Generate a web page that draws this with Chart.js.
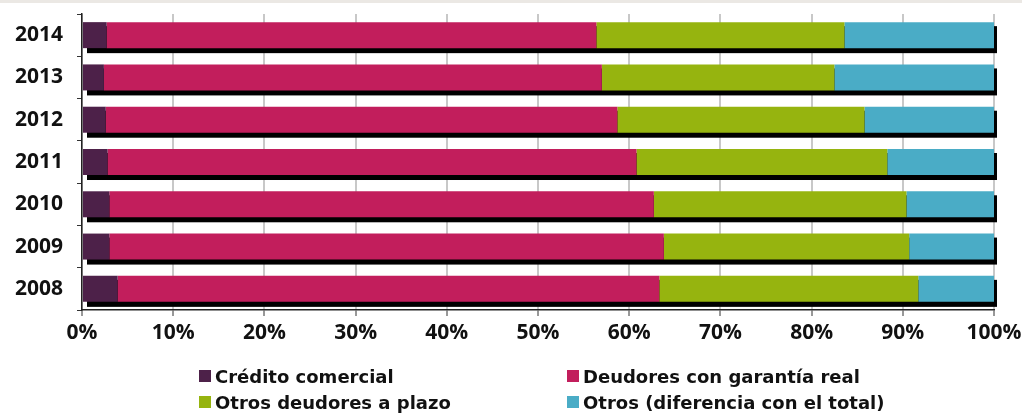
<!DOCTYPE html>
<html>
<head>
<meta charset="utf-8">
<script src="https://cdn.jsdelivr.net/npm/chart.js@4"></script>
<style>
html,body{margin:0;padding:0;background:#fff;}
#wrap{width:1022px;height:414px;position:relative;}
</style>
</head>
<body>
<div id="wrap"><canvas id="c" width="1022" height="414"></canvas></div>
<script>
const categories = ['2014', '2013', '2012', '2011', '2010', '2009', '2008'];
const seriesNames = ['Crédito comercial', 'Deudores con garantía real', 'Otros deudores a plazo', 'Otros (diferencia con el total)'];
const credito = [2.7, 2.4, 2.6, 2.8, 3.0, 3.0, 3.9];
const deudoresGarantia = [53.7, 54.6, 56.1, 58.0, 59.7, 60.8, 59.4];
const otrosDeudores = [27.2, 25.5, 27.1, 27.5, 27.7, 26.9, 28.4];
const otros = [16.4, 17.5, 14.2, 11.7, 9.6, 9.3, 8.3];
const xTickValues = [0, 10, 20, 30, 40, 50, 60, 70, 80, 90, 100];
const xTickLabels = ['0%', '10%', '20%', '30%', '40%', '50%', '60%', '70%', '80%', '90%', '100%'];

const colors = ['#4d2149', '#c21e5c', '#96b40f', '#4aacc6'];
const FONT = '"Open Sans", "Noto Sans", sans-serif';
const LEGEND_FONT = '"DejaVu Sans", "Open Sans", sans-serif';
const TXT = '#111111';

const bgPlugin = {
  id: 'bg',
  beforeDraw(chart) {
    const ctx = chart.ctx;
    ctx.save();
    ctx.fillStyle = '#ffffff';
    ctx.fillRect(0, 0, chart.width, chart.height);
    ctx.fillStyle = '#ebe8e4';
    ctx.fillRect(0, 0, chart.width, 3);
    ctx.restore();
  }
};

const shadowPlugin = {
  id: 'barShadow',
  beforeDatasetsDraw(chart) {
    const ctx = chart.ctx;
    const xs = chart.scales.x;
    const meta0 = chart.getDatasetMeta(0);
    ctx.save();
    ctx.fillStyle = '#000000';
    meta0.data.forEach((el, j) => {
      const p = el.getProps(['y', 'height'], true);
      let total = 0;
      chart.data.datasets.forEach(ds => { total += ds.data[j]; });
      const x0 = xs.getPixelForValue(0) + 5;
      const x1 = xs.getPixelForValue(total) + 3;
      const top = p.y - p.height / 2 + 4;
      ctx.fillRect(x0, top, x1 - x0, p.height + 1);
    });
    ctx.restore();
  }
};

const legendPlugin = {
  id: 'gridLegend',
  afterDraw(chart) {
    const ctx = chart.ctx;
    const colX = [199, 567];
    const rowY = [370, 396];
    ctx.save();
    ctx.font = 'bold 18px ' + LEGEND_FONT;
    ctx.textBaseline = 'alphabetic';
    ctx.textAlign = 'left';
    chart.data.datasets.forEach((ds, i) => {
      const bx = colX[i % 2];
      const by = rowY[Math.floor(i / 2)];
      ctx.fillStyle = ds.backgroundColor;
      ctx.fillRect(bx, by, 12, 12);
      ctx.fillStyle = TXT;
      ctx.fillText(ds.label, bx + 16, by + 12.5);
    });
    ctx.restore();
  }
};

function makeChart() {
  const seriesData = [credito, deudoresGarantia, otrosDeudores, otros];
  new Chart(document.getElementById('c'), {
    type: 'bar',
    data: {
      labels: categories,
      datasets: seriesNames.map((name, i) => ({
        label: name,
        data: seriesData[i],
        backgroundColor: colors[i],
        borderWidth: 0,
        barPercentage: 0.615,
        categoryPercentage: 1.0
      }))
    },
    options: {
      indexAxis: 'y',
      responsive: false,
      animation: false,
      devicePixelRatio: 1,
      layout: { padding: { top: 14, right: 28, bottom: 64, left: 0 } },
      plugins: { legend: { display: false }, tooltip: { enabled: false } },
      scales: {
        x: {
          stacked: true,
          min: 0,
          max: 100,
          afterBuildTicks(scale) { scale.ticks = xTickValues.map(v => ({ value: v })); },
          afterFit(scale) { scale.height = 40; scale.paddingLeft = 0; scale.paddingRight = 0; },
          ticks: {
            callback: (v) => xTickLabels[xTickValues.indexOf(v)],
            font: { family: FONT, size: 21, weight: 'bold' },
            color: TXT,
            padding: 4,
            maxRotation: 0
          },
          grid: { color: '#c8c8c8', lineWidth: 2, tickLength: 6, tickColor: '#333333', tickWidth: 1 },
          border: { color: '#222222', width: 1.5 }
        },
        y: {
          stacked: true,
          afterFit(scale) { scale.width = 82; scale.paddingTop = 0; scale.paddingBottom = 0; },
          ticks: {
            font: { family: FONT, size: 21, weight: 'bold' },
            color: TXT,
            padding: 14
          },
          grid: { drawOnChartArea: false, offset: true, tickLength: 5, tickColor: '#333333', tickWidth: 1 },
          border: { color: '#222222', width: 1.5 }
        }
      }
    },
    plugins: [bgPlugin, shadowPlugin, legendPlugin]
  });
}

if (document.fonts && document.fonts.load) {
  Promise.all([
    document.fonts.load('bold 21px "Open Sans"'),
    document.fonts.load('bold 18px "DejaVu Sans"')
  ]).then(makeChart, makeChart);
} else {
  makeChart();
}
</script>
</body>
</html>
